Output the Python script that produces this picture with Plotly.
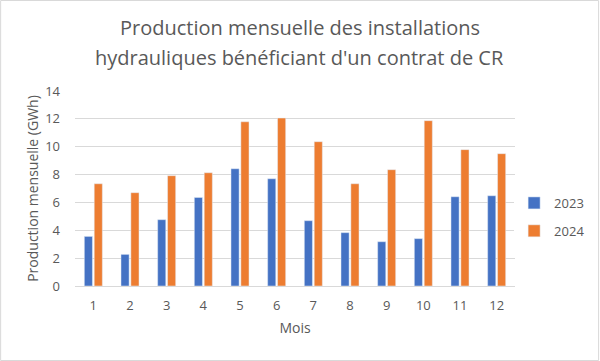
import plotly.graph_objects as go

months = [str(i) for i in range(1, 13)]
prod_2023 = [3.56, 2.27, 4.76, 6.36, 8.42, 7.70, 4.69, 3.83, 3.18, 3.40, 6.41, 6.48]
prod_2024 = [7.34, 6.70, 7.92, 8.13, 11.79, 12.06, 10.36, 7.34, 8.35, 11.87, 9.79, 9.50]
y_ticks = [0, 2, 4, 6, 8, 10, 12, 14]
title_lines = ["Production mensuelle des installations",
               "hydrauliques bénéficiant d'un contrat de CR"]

font_family = "Open Sans, Liberation Sans, sans-serif"
grey = "#595959"

fig = go.Figure()
fig.add_trace(go.Bar(x=months, y=prod_2023, name="2023", marker_color="#4472C4", legendgroup="a"))
fig.add_trace(go.Bar(x=months, y=prod_2024, name="2024", marker_color="#ED7D31", legendgroup="b"))

fig.update_layout(
    width=600, height=361,
    margin=dict(l=75, r=85, t=91, b=75, autoexpand=False),
    paper_bgcolor="white", plot_bgcolor="white",
    barmode="group", bargap=0.46, bargroupgap=0.18,
    font=dict(family=font_family, size=13, color=grey),
    legend=dict(
        x=0.998, xanchor="left", y=0.354, yanchor="middle",
        font=dict(size=13, color=grey), tracegroupgap=8,
        itemwidth=30,
    ),
    xaxis=dict(
        title=dict(text="Mois", font=dict(size=14, color=grey), standoff=10),
        showgrid=False, showline=True, linecolor="#D9D9D9", linewidth=1,
        ticks="", tickfont=dict(size=13, color=grey), automargin=False,
        ticklabelstandoff=7,
    ),
    yaxis=dict(
        title=dict(text="Production mensuelle (GWh)", font=dict(size=14, color=grey), standoff=3),
        range=[0, 14], tickvals=y_ticks, showgrid=True, gridcolor="#D9D9D9",
        zeroline=False, ticks="", tickfont=dict(size=13, color=grey), automargin=False,
        ticklabelstandoff=14,
    ),
    annotations=[
        dict(text=title_lines[0], xref="paper", yref="paper", x=0.511, y=1.328,
             xanchor="center", yanchor="middle", showarrow=False,
             font=dict(family=font_family, size=20, color=grey)),
        dict(text=title_lines[1], xref="paper", yref="paper", x=0.511, y=1.174,
             xanchor="center", yanchor="middle", showarrow=False,
             font=dict(family=font_family, size=20, color=grey)),
    ],
    shapes=[dict(type="rect", xref="paper", yref="paper", x0=-0.169, x1=1.19, y0=-0.382, y1=1.464,
                 line=dict(color="#D9D9D9", width=1))],
)

fig.write_html("out.html", post_script="document.body.style.margin='0';",
               config={"displayModeBar": False})
